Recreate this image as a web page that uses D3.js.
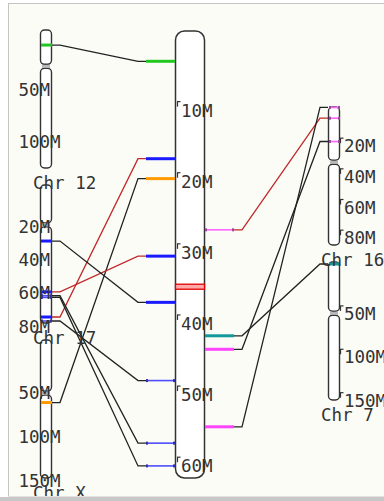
<!DOCTYPE html>
<html>
<head>
<meta charset="utf-8">
<script src="https://cdn.jsdelivr.net/npm/d3@7"></script>
<style>
  html, body { margin: 0; padding: 0; background: #fff; }
  svg { display: block; }
</style>
</head>
<body>
<svg id="chart" width="384" height="501"></svg>
<script>
// Reference chromosome (centre column)
const refLength = 63;
const refTicks = [10, 20, 30, 40, 50, 60];
const refCentromere = 36.1;

// Comparison chromosomes
const chromNames = ["Chr 12", "Chr 17", "Chr X", "Chr 16", "Chr 7"];
const chromLengths = [133, 83, 156, 90, 159];
const chromCentromeres = [35, 24, 60, 36, 59];
const chromSides = ["left", "left", "left", "right", "right"];
const chromTicks = [[50, 100], [20, 40, 60, 80], [50, 100, 150], [20, 40, 60, 80], [50, 100, 150]];

// Syntenic links: comparison chromosome, position there (Mb), position on the reference (Mb)
const linkChrom  = [0, 1, 2, 1, 1, 1, 1, 1, 3, 4, 3, 3];
const linkPos    = [14.5, 79.4, 70.7, 64.3, 33.7, 81.8, 66.6, 67.6, 7.3, 2.3, 22.5, 0.3];
const linkRefPos = [4.4, 18.1, 20.9, 31.8, 38.3, 49.3, 58.1, 61.3, 28.1, 43.0, 44.9, 55.8];
// Block family of each link, and whether the block is inverted
const linkFamily = ["A", "B", "C", "B", "B", "D", "D", "D", "E", "F", "G", "G"];
const linkInverted = [false, true, false, true, false, false, false, false, true, false, false, false];

const W = 384, H = 501;
const svg = d3.select("#chart");
const FONT = "'DejaVu Sans Mono', monospace";
const TEXT = "#333";

const familyColor = d3.scaleOrdinal()
  .domain(["A", "B", "C", "D", "E", "F", "G"])
  .range(["#22c822", "#1a1aff", "#ff9a00", "#4d4dff", "#ff66ff", "#129a9a", "#ff44ff"]);
const thinFamilies = new Set(["D", "E"]);
const linkColor = d3.scaleOrdinal().domain([false, true]).range(["#222", "#c0282a"]);

// Panel
svg.append("rect").attr("width", W).attr("height", H).attr("fill", "#fff");
svg.append("rect")
  .attr("x", 8.5).attr("y", 3.5).attr("width", W).attr("height", H)
  .attr("fill", "#fcfcf6").attr("stroke", "#c4c4c4");

// Layout of the columns
const columns = {
  left:  { x: 40,  w: 12, top: 30 },
  right: { x: 328, w: 12, top: 107 }
};
const chromHeight = 138, chromGap = 17;
const ref = { x: 175, w: 29, top: 30, bottom: 478 };
const refY = d3.scaleLinear().domain([0, refLength]).range([ref.top, ref.bottom]);

const stackTop = { left: columns.left.top, right: columns.right.top };
const chroms = chromNames.map((name, i) => {
  const side = chromSides[i];
  const top = stackTop[side];
  stackTop[side] = top + chromHeight + chromGap;
  return {
    name, side, top, bottom: top + chromHeight,
    x: columns[side].x, w: columns[side].w,
    y: d3.scaleLinear().domain([0, chromLengths[i]]).range([top, top + chromHeight]),
    cen: chromCentromeres[i], ticks: chromTicks[i]
  };
});

const links = linkChrom.map((c, i) => ({
  chrom: chroms[c], pos: linkPos[i], refPos: linkRefPos[i],
  family: linkFamily[i], inverted: linkInverted[i]
}));

const markerLeft = 146, markerRight = 234, stub = 8;
const line = d3.line();

// Links
svg.append("g").selectAll("path").data(links).join("path")
  .attr("fill", "none")
  .attr("stroke", d => linkColor(d.inverted))
  .attr("stroke-width", 1.3)
  .attr("d", d => {
    const ys = d.chrom.y(d.pos), ym = refY(d.refPos);
    if (d.chrom.side === "left") {
      const xs = d.chrom.x + d.chrom.w;
      return line([[xs, ys], [xs + stub, ys], [markerLeft - stub, ym], [markerLeft, ym]]);
    }
    const xs = d.chrom.x;
    return line([[markerRight, ym], [markerRight + stub, ym], [xs - stub, ys], [xs, ys]]);
  });

// Comparison chromosomes: two arms split at the centromere
const chromG = svg.append("g");
chroms.forEach(c => {
  const cy = c.y(c.cen);
  chromG.append("rect")
    .attr("x", c.x + 0.5).attr("y", c.top).attr("width", c.w - 1).attr("height", cy - 2 - c.top)
    .attr("rx", 4).attr("fill", "#fff").attr("stroke", "#333").attr("stroke-width", 1.4);
  chromG.append("rect")
    .attr("x", c.x + 0.5).attr("y", cy + 2).attr("width", c.w - 1).attr("height", c.bottom - cy - 2)
    .attr("rx", 4).attr("fill", "#fff").attr("stroke", "#333").attr("stroke-width", 1.4);
  chromG.append("rect")
    .attr("x", c.x + 2).attr("y", cy - 1.5).attr("width", c.w - 4).attr("height", 3)
    .attr("fill", "#b8b8b8");
});

// Reference chromosome
svg.append("rect")
  .attr("x", ref.x + 0.5).attr("y", ref.top + 1).attr("width", ref.w).attr("height", ref.bottom - ref.top - 1)
  .attr("rx", 9).attr("fill", "#fff").attr("stroke", "#333").attr("stroke-width", 1.5);
svg.append("rect")
  .attr("x", ref.x + 0.5).attr("y", refY(refCentromere) - 2.5).attr("width", ref.w).attr("height", 5)
  .attr("fill", "#ffa8a8").attr("stroke", "#e00000").attr("stroke-width", 1.3);

// Block markers
function marker(g, x1, x2, y, family) {
  const col = familyColor(family);
  if (thinFamilies.has(family)) {
    g.append("line").attr("x1", x1).attr("x2", x2).attr("y1", y).attr("y2", y)
      .attr("stroke", col).attr("stroke-width", 1.6);
    [x1, x2 - 2].forEach(x => g.append("rect")
      .attr("x", x).attr("y", y - 1.5).attr("width", 2).attr("height", 3)
      .attr("fill", d3.color(col).darker(1.2)));
  } else {
    g.append("line").attr("x1", x1).attr("x2", x2).attr("y1", y).attr("y2", y)
      .attr("stroke", col).attr("stroke-width", 3);
  }
}
const markG = svg.append("g");
links.forEach(d => {
  const ym = refY(d.refPos);
  if (d.chrom.side === "left") marker(markG, markerLeft, ref.x, ym, d.family);
  else marker(markG, ref.x + ref.w + 1, markerRight, ym, d.family);
  const sideFamily = d.chrom.side === "right" && d.family === "G" ? "E" : d.family;
  marker(markG, d.chrom.x + 1, d.chrom.x + d.chrom.w, d.chrom.y(d.pos), sideFamily);
});

// Axes
function styleAxis(g, offset, withTicks) {
  g.select(".domain").remove();
  g.selectAll(".tick text")
    .attr("x", withTicks ? 4 : 0).attr("y", offset).attr("dy", null)
    .attr("fill", TEXT).style("font-family", FONT).style("font-size", "17.5px")
    .attr("text-anchor", "start");
  if (withTicks) {
    g.selectAll(".tick line").attr("stroke", "#333").attr("stroke-width", 1.2);
    g.selectAll(".tick").append("line")
      .attr("x1", 0.5).attr("x2", 0.5).attr("y1", 0).attr("y2", 5)
      .attr("stroke", "#333").attr("stroke-width", 1.2);
  } else {
    g.selectAll(".tick line").remove();
  }
}
const fmt = d => d + "M";
svg.append("g").attr("transform", `translate(${ref.x + 2},0)`)
  .call(d3.axisRight(refY).tickValues(refTicks).tickFormat(fmt).tickSize(3.5).tickPadding(0))
  .call(g => styleAxis(g, 15, true));
chroms.forEach(c => {
  const ax = d3.axisRight(c.y).tickValues(c.ticks).tickFormat(fmt).tickSize(3.5).tickPadding(0);
  if (c.side === "left") {
    svg.append("g").attr("transform", "translate(18.5,0)").call(ax).call(g => styleAxis(g, 14, false));
  } else {
    svg.append("g").attr("transform", `translate(${c.x + c.w},0)`).call(ax).call(g => styleAxis(g, 14, true));
  }
});

// Chromosome names
svg.append("g").selectAll("text").data(chroms).join("text")
  .attr("x", d => d.x - 7).attr("y", d => d.bottom + 21)
  .attr("fill", TEXT).style("font-family", FONT).style("font-size", "17.5px")
  .style("white-space", "pre")
  .text(d => d.name);

// Window frame at the bottom
svg.append("rect").attr("x", 0).attr("y", 497).attr("width", W).attr("height", 4).attr("fill", "#c8c8c8");
svg.append("line").attr("x1", 8).attr("x2", W).attr("y1", 496.5).attr("y2", 496.5).attr("stroke", "#e2e2e2");
</script>
</body>
</html>
